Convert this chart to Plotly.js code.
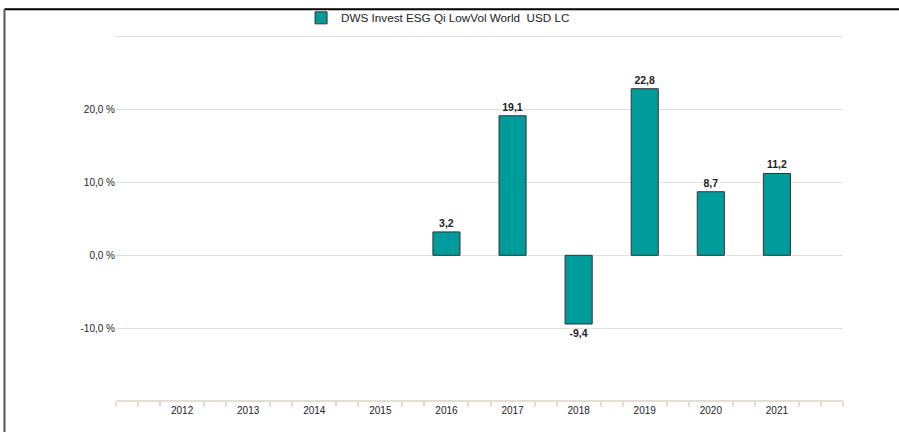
<!DOCTYPE html>
<html>
<head>
<meta charset="utf-8">
<script src="https://cdn.plot.ly/plotly-3.0.1.min.js"></script>
<style>html,body{margin:0;padding:0;background:#fff;}#chart{width:899px;height:432px;}</style>
</head>
<body>
<div id="chart"></div>
<script>
var years = [2012, 2013, 2014, 2015, 2016, 2017, 2018, 2019, 2020, 2021];
var returns = [null, null, null, null, 3.2, 19.1, -9.4, 22.8, 8.7, 11.2];
var seriesName = 'DWS Invest ESG Qi LowVol World \u00a0USD LC';
var yTickVals = [-10, 0, 10, 20, 30];
var yTickText = ['-10,0 %', '0,0 %', '10,0 %', '20,0 %', ''];

var minorTicks = [years[0] - 1 + 1/3];
years.forEach(function (y) { minorTicks.push(y - 1/3, y + 1/3); });
minorTicks.push(years[years.length - 1] + 1 - 1/3, years[years.length - 1] + 1);
minorTicks.unshift(years[0] - 1);

var trace = {
  type: 'bar',
  x: years,
  y: returns,
  name: seriesName,
  width: 0.41,
  marker: {color: '#009c9c', line: {color: '#333333', width: 1}},
  texttemplate: '%{y:.1f}',
  textposition: 'outside',
  cliponaxis: false,
  textfont: {family: 'Liberation Sans, Arial, sans-serif', size: 10.5, color: '#222', weight: 'bold'},
  showlegend: true,
  hoverinfo: 'none'
};

var layout = {
  width: 899, height: 432,
  margin: {l: 116, r: 56, t: 35, b: 32, autoexpand: false},
  paper_bgcolor: '#ffffff', plot_bgcolor: '#ffffff',
  separators: ',.',
  font: {family: 'Liberation Sans, Arial, sans-serif', size: 10, color: '#333'},
  showlegend: true,
  legend: {
    orientation: 'h', x: 0.443, xanchor: 'center', y: 1.047, yanchor: 'middle',
    font: {size: 11.7, color: '#222'}, bgcolor: 'rgba(0,0,0,0)'
  },
  xaxis: {
    type: 'linear', range: [years[0] - 1, years[years.length - 1] + 1],
    tickmode: 'array', tickvals: years, ticktext: years.map(String),
    ticks: '', showgrid: false, zeroline: false,
    showline: true, linecolor: '#e2ded4', linewidth: 2,
    tickfont: {size: 10, color: '#222'},
    minor: {tickmode: 'array', tickvals: minorTicks, ticks: 'outside', ticklen: 5, tickwidth: 2, tickcolor: '#e2ded4', showgrid: false},
    fixedrange: true
  },
  yaxis: {
    range: [-19.8, 30.15],
    tickmode: 'array', tickvals: yTickVals, ticktext: yTickText,
    showgrid: true, gridcolor: '#e2e0da', gridwidth: 1,
    zeroline: true, zerolinecolor: '#e2e0da', zerolinewidth: 1,
    showline: false, ticks: '',
    tickfont: {size: 10, color: '#222'},
    fixedrange: true
  },
  bargap: 0.5,
  shapes: [
    {type: 'line', xref: 'paper', yref: 'paper', x0: -0.1534, x1: 1.08, y0: 1.0705, y1: 1.0705, line: {color: '#000', width: 2}},
    {type: 'line', xref: 'paper', yref: 'paper', x0: -0.1534, x1: -0.1534, y0: 1.0705, y1: -0.1, line: {color: '#555', width: 2}}
  ]
};

Plotly.newPlot('chart', [trace], layout, {displayModeBar: false, staticPlot: true});
</script>
</body>
</html>
